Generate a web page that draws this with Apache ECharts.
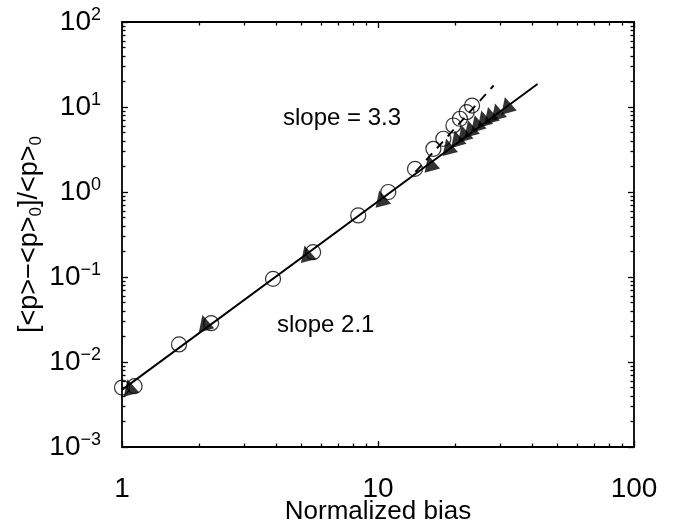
<!DOCTYPE html>
<html>
<head>
<meta charset="utf-8">
<script src="https://cdn.jsdelivr.net/npm/echarts@6/dist/echarts.min.js"></script>
<style>
  html, body { margin: 0; padding: 0; background: #fff; }
  #main { width: 684px; height: 525px; }
</style>
</head>
<body>
<div id="main"></div>
<script>
// open circles
const circleX = [1.0, 1.12, 1.67, 2.23, 3.89, 5.58, 8.37, 10.97, 13.95, 16.46, 18.0, 19.7, 20.9, 22.2, 23.3];
const circleY = [0.0050, 0.0052, 0.0161, 0.0286, 0.095, 0.196, 0.53, 1.0, 1.87, 3.22, 4.23, 6.06, 7.27, 8.69, 10.4];
// filled triangles
const triX = [1.07, 2.10, 5.26, 10.3, 16.0, 18.8, 20.3, 21.6, 22.9, 24.3, 25.8, 27.4, 29.2, 31.9];
const triY = [0.0051, 0.029, 0.19, 0.85, 2.2, 3.45, 4.3, 4.95, 5.65, 6.5, 7.4, 8.1, 8.9, 10.6];
// fit lines
const fitX = [1, 42];
const fitY = [0.0047, 18.7];
const steepX = [14, 28.3];
const steepY = [1.72, 17.9];
// ticks
const xMajor = [1, 10, 100];
const xMinor = [2, 3, 4, 5, 6, 7, 8, 9, 20, 30, 40, 50, 60, 70, 80, 90];
const yMajor = [0.001, 0.01, 0.1, 1, 10, 100];
const yMinor = [];
yMajor.slice(0, -1).forEach(function (d) {
    for (let k = 2; k <= 9; k++) yMinor.push(d * k);
});

const FONT = 'Liberation Sans, Arial, sans-serif';
const zip = (a, b) => a.map((v, i) => [v, b[i]]);

const chart = echarts.init(document.getElementById('main'));

function xAx(pos, ticks, len, labels) {
    return {
        type: 'log', logBase: 10, min: 1, max: 100, position: pos,
        axisLine: {show: len > 4, lineStyle: {color: '#000', width: 1.8}},
        axisTick: {show: true, inside: true, length: len, customValues: ticks,
            lineStyle: {color: '#000', width: 1.3}},
        axisLabel: labels ? {
            show: true, customValues: xMajor, margin: 28,
            fontSize: 28, fontFamily: FONT, color: '#000'
        } : {show: false},
        splitLine: {show: false},
        minorTick: {show: false},
        name: labels ? 'Normalized bias' : '',
        nameLocation: 'middle', nameGap: 52, nameMoveOverlap: false,
        nameTextStyle: {fontSize: 26, fontFamily: FONT, color: '#000'}
    };
}

function yAx(pos, ticks, len, labels) {
    return {
        type: 'log', logBase: 10, min: 0.001, max: 100, position: pos,
        axisLine: {show: len > 4, lineStyle: {color: '#000', width: 1.8}},
        axisTick: {show: true, inside: true, length: len, customValues: ticks,
            lineStyle: {color: '#000', width: 1.3}},
        axisLabel: labels ? {
            show: true, customValues: yMajor, margin: 21,
            formatter: function (v) {
                const e = Math.round(Math.log10(v));
                return '{b|10}{s|' + (e < 0 ? '\u2212' + (-e) : e) + '}';
            },
            rich: {
                b: {fontSize: 28, fontFamily: FONT, color: '#000', lineHeight: 32},
                s: {fontSize: 18, fontFamily: FONT, color: '#000', verticalAlign: 'top', lineHeight: 18}
            }
        } : {show: false},
        splitLine: {show: false},
        minorTick: {show: false},
        name: labels ? '[<p>\u2212<p>{sub|0}]/<p>{sub|0}' : '',
        nameLocation: 'middle', nameGap: 77, nameRotate: 90, nameMoveOverlap: false,
        nameTextStyle: {
            fontSize: 27, fontFamily: FONT, color: '#000', lineHeight: 30,
            rich: {
                sub: {fontSize: 17, fontFamily: FONT, color: '#000', verticalAlign: 'bottom', lineHeight: 17}
            }
        }
    };
}

const option = {
    backgroundColor: '#fff',
    animation: false,
    grid: {left: 122, right: 50, top: 22, bottom: 78, containLabel: false, outerBoundsMode: 'none'},
    xAxis: [
        xAx('bottom', xMajor, 6, true),
        xAx('bottom', xMinor, 3.5, false),
        xAx('top', xMajor, 6, false),
        xAx('top', xMinor, 3.5, false)
    ],
    yAxis: [
        yAx('left', yMajor, 6, true),
        yAx('left', yMinor, 3.5, false),
        yAx('right', yMajor, 6, false),
        yAx('right', yMinor, 3.5, false)
    ],
    graphic: [
        {type: 'text', left: 283, top: 106,
            style: {text: 'slope = 3.3', fontSize: 24, fontFamily: FONT, fill: '#000'}},
        {type: 'text', left: 277, top: 313,
            style: {text: 'slope 2.1', fontSize: 24, fontFamily: FONT, fill: '#000'}}
    ],
    series: [
        {
            name: 'fit 2.1', type: 'line', data: zip(fitX, fitY),
            showSymbol: false, symbol: 'none',
            lineStyle: {color: '#000', width: 1.9}, z: 2
        },
        {
            name: 'fit 3.3', type: 'line', data: zip(steepX, steepY),
            showSymbol: false, symbol: 'none',
            lineStyle: {color: '#000', width: 1.9, type: [9, 7]}, z: 2
        },
        {
            name: 'triangles', type: 'scatter', data: zip(triX, triY),
            symbol: 'triangle', symbolSize: 16, symbolRotate: 15,
            itemStyle: {color: '#000'}, z: 3
        },
        {
            name: 'circles', type: 'scatter', data: zip(circleX, circleY),
            symbol: 'circle', symbolSize: 15,
            itemStyle: {color: 'transparent', borderColor: '#000', borderWidth: 1.2}, z: 4
        }
    ]
};

option && chart.setOption(option);
</script>
</body>
</html>
